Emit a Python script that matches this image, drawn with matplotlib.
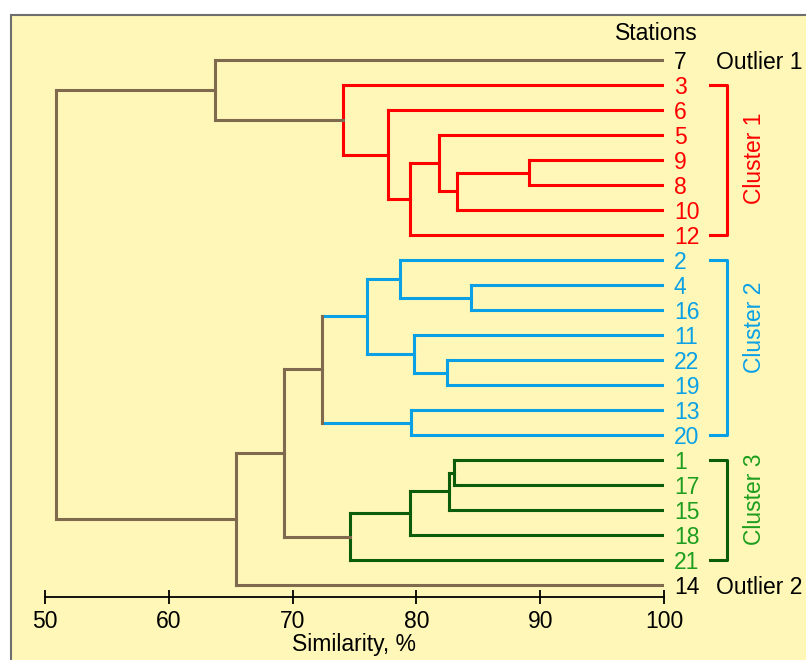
import matplotlib.pyplot as plt
from matplotlib.patches import Rectangle

plt.rcParams['font.family'] = ['Liberation Sans', 'DejaVu Sans']

# leaf order top to bottom
leaves = ['7', '3', '6', '5', '9', '8', '10', '12',
          '2', '4', '16', '11', '22', '19', '13', '20',
          '1', '17', '15', '18', '21', '14']
cluster1 = ['3', '6', '5', '9', '8', '10', '12']
cluster2 = ['2', '4', '16', '11', '22', '19', '13', '20']
cluster3 = ['1', '17', '15', '18', '21']
outliers = ['7', '14']

# (left child, right child, similarity %, group of links, group of vertical)
merges = [
    ('9', '8', 89.1, 'c1', 'c1'),      # m0
    ('m0', '10', 83.3, 'c1', 'c1'),    # m1
    ('5', 'm1', 81.8, 'c1', 'c1'),     # m2
    ('m2', '12', 79.5, 'c1', 'c1'),    # m3
    ('6', 'm3', 77.7, 'c1', 'c1'),     # m4
    ('3', 'm4', 74.1, 'c1', 'c1'),     # m5
    ('7', 'm5', 63.7, 'o', 'o'),       # m6
    ('4', '16', 84.4, 'c2', 'c2'),     # m7
    ('2', 'm7', 78.7, 'c2', 'c2'),     # m8
    ('22', '19', 82.5, 'c2', 'c2'),    # m9
    ('11', 'm9', 79.8, 'c2', 'c2'),    # m10
    ('13', '20', 79.6, 'c2', 'c2'),    # m11
    ('m8', 'm10', 76.0, 'c2', 'c2'),   # m12
    ('m12', 'm11', 72.4, 'c2', 'o'),   # m13
    ('1', '17', 83.0, 'c3', 'c3'),     # m14
    ('m14', '15', 82.6, 'c3', 'c3'),   # m15
    ('m15', '18', 79.5, 'c3', 'c3'),   # m16
    ('m16', '21', 74.6, 'c3', 'c3'),   # m17
    ('m13', 'm17', 69.3, 'o', 'o'),    # m18
    ('m18', '14', 65.4, 'o', 'o'),     # m19
    ('m6', 'm19', 50.9, 'o', 'o'),     # m20
]

line_col = {'o': '#7f6a4f', 'c1': '#ff0000', 'c2': '#0aa0e6', 'c3': '#0b5c0b'}
text_col = {'o': 'black', 'c1': '#ff0000', 'c2': '#0aa0e6', 'c3': '#1e9e1e'}
ticks = [50, 60, 70, 80, 90, 100]


def group_of(leaf):
    if leaf in cluster1:
        return 'c1'
    if leaf in cluster2:
        return 'c2'
    if leaf in cluster3:
        return 'c3'
    return 'o'


fig = plt.figure(figsize=(8.06, 6.6), dpi=100)
frame = Rectangle((11 / 806, -0.1), 1.2, 1 - 15 / 660 + 0.1,
                  transform=fig.transFigure, facecolor='#fef7b7',
                  edgecolor='#6e6e6e', linewidth=1.5, zorder=-10)
fig.patches.append(frame)

ax = fig.add_axes([45 / 806, 0, (664 - 45) / 806, (660 - 35) / 660])
ax.set_zorder(5)
ax.patch.set_visible(False)
ax.set_xlim(50, 100)
ax.set_ylim(24, -1)

pos = {}
for i, lf in enumerate(leaves):
    pos[lf] = (100, i)

lw = 2.2
for k, (a, b, h, g, gv) in enumerate(merges):
    xa, ya = pos[a]
    xb, yb = pos[b]
    c = line_col[g]
    ax.plot([h, xa], [ya, ya], color=c, lw=lw, solid_capstyle='projecting')
    ax.plot([h, xb], [yb, yb], color=c, lw=lw, solid_capstyle='projecting')
    ax.plot([h, h], [ya, yb], color=line_col[gv], lw=lw, solid_capstyle='projecting')
    pos['m%d' % k] = (h, (ya + yb) / 2)

fs = 16.5
dy = 0.1
for i, lf in enumerate(leaves):
    ax.text(100.8, i + dy, lf, color=text_col[group_of(lf)], fontsize=fs,
            ha='left', va='center', clip_on=False)

ax.text(99.4, -1.14 + dy, 'Stations', fontsize=fs, ha='center', va='center', clip_on=False)
ax.text(104.2, 0 + dy, 'Outlier 1', fontsize=fs, ha='left', va='center', clip_on=False)
ax.text(104.2, 21 + dy, 'Outlier 2', fontsize=fs, ha='left', va='center', clip_on=False)

# cluster brackets
for members, g, ty, name in [(cluster1, 'c1', 3.92, 'Cluster 1'),
                             (cluster2, 'c2', 10.68, 'Cluster 2'),
                             (cluster3, 'c3', 17.56, 'Cluster 3')]:
    i0 = leaves.index(members[0])
    i1 = leaves.index(members[-1])
    ax.plot([103.7, 105.1, 105.1, 103.7], [i0, i0, i1, i1], color=line_col[g],
            lw=lw, clip_on=False)
    ax.text(107.3, ty, name, color=text_col[g], fontsize=fs, rotation=90,
            ha='center', va='center', clip_on=False)

for s in ['top', 'left', 'right']:
    ax.spines[s].set_visible(False)
ax.spines['bottom'].set_position(('data', 21.48))
ax.spines['bottom'].set_bounds(50, 100)
ax.spines['bottom'].set_linewidth(1.3)
ax.set_yticks([])
ax.set_xticks(ticks)
ax.tick_params(axis='x', direction='inout', length=10, width=1.3, labelsize=fs, pad=4)
ax.set_xlabel('Similarity, %', fontsize=fs, labelpad=0)

plt.savefig('out.png', dpi=100)
